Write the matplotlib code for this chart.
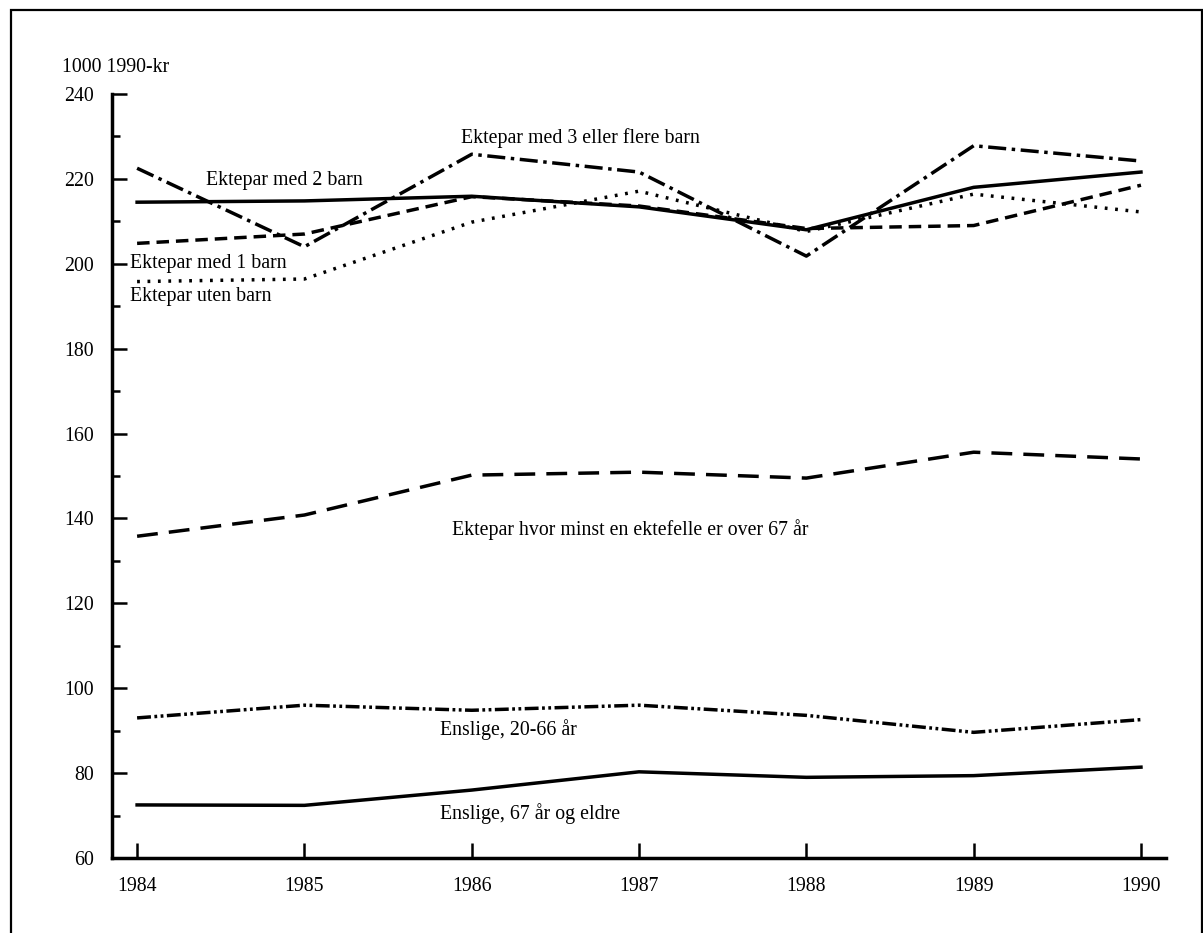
"""Inntekt etter husholdningstype 1984-1990, 1000 1990-kr."""

import matplotlib
matplotlib.use("Agg")
import matplotlib.pyplot as plt
from matplotlib.patches import Rectangle
from matplotlib.ticker import MultipleLocator

years = [1984, 1985, 1986, 1987, 1988, 1989, 1990]

ektepar_3_barn = [222.5, 204.0, 225.8, 221.6, 201.8, 227.8, 224.2]
ektepar_2_barn = [214.5, 214.8, 215.9, 213.4, 208.0, 218.0, 221.6]
ektepar_1_barn = [204.8, 207.0, 215.8, 213.6, 208.3, 209.0, 218.5]
ektepar_uten_barn = [195.8, 196.4, 209.8, 217.1, 207.6, 216.4, 212.2]
ektepar_over_67 = [135.8, 140.8, 150.2, 150.9, 149.5, 155.6, 154.0]
enslige_20_66 = [93.0, 96.0, 94.8, 96.0, 93.6, 89.6, 92.6]
enslige_67 = [72.5, 72.4, 76.0, 80.3, 79.0, 79.4, 81.4]

plt.rcParams["font.family"] = ["Liberation Serif", "DejaVu Serif"]
plt.rcParams["lines.scale_dashes"] = False

fig = plt.figure(figsize=(12.03, 9.33), dpi=100)
ax = fig.add_axes([0.0931, 0.0804, 0.8762, 0.8189])

lw = 2.5
ax.plot(years, ektepar_3_barn, color="black", lw=lw, ls=(0, (13, 4, 2.5, 4)))
ax.plot(years, ektepar_2_barn, color="black", lw=lw, ls="-")
ax.plot(years, ektepar_1_barn, color="black", lw=lw, ls=(0, (9, 5)))
ax.plot(years, ektepar_uten_barn, color="black", lw=lw, ls=(0, (2, 5.5)))
ax.plot(years, ektepar_over_67, color="black", lw=lw, ls=(0, (15, 8)))
ax.plot(years, enslige_20_66, color="black", lw=lw,
        ls=(0, (10, 2.5, 2, 2.5, 2, 2.5)))
ax.plot(years, enslige_67, color="black", lw=lw, ls="-")

fs = 14.3
ax.text(1986.65, 229.5, "Ektepar med 3 eller flere barn", fontsize=fs,
        ha="center", va="center")
ax.text(1984.41, 219.6, "Ektepar med 2 barn", fontsize=fs, va="center")
ax.text(1983.96, 200.0, "Ektepar med 1 barn", fontsize=fs, va="center")
ax.text(1983.96, 192.3, "Ektepar uten barn", fontsize=fs, va="center")
ax.text(1985.88, 137.4, "Ektepar hvor minst en ektefelle er over 67 år",
        fontsize=fs, va="center")
ax.text(1985.81, 90.2, "Enslige, 20-66 år", fontsize=fs, va="center")
ax.text(1985.81, 70.4, "Enslige, 67 år og eldre", fontsize=fs, va="center")

ax.set_xlim(1983.85, 1990.15)
ax.set_ylim(60, 240)
ax.set_xticks(years)
ax.yaxis.set_major_locator(MultipleLocator(20))
ax.yaxis.set_minor_locator(MultipleLocator(10))
ax.tick_params(axis="both", direction="in", labelsize=fs, width=1.8,
               length=11, color="black")
ax.tick_params(axis="y", which="minor", direction="in", width=1.8, length=6)
ax.tick_params(axis="x", pad=14)
ax.tick_params(axis="y", pad=13)

for s in ["top", "right"]:
    ax.spines[s].set_visible(False)
for s in ["left", "bottom"]:
    ax.spines[s].set_linewidth(2.5)

fig.text(62 / 1203, 1 - 68 / 933, "1000 1990-kr", fontsize=fs, va="center")

# ramme rundt figuren
fig.patches.append(Rectangle((0.009, -0.01), 0.99, 0.999, transform=fig.transFigure,
                             fill=False, lw=1.6, ec="black"))

fig.savefig("out.png", dpi=100)
